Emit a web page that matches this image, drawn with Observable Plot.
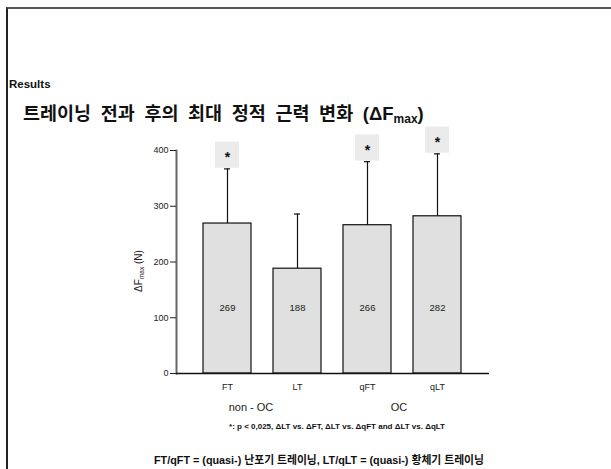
<!DOCTYPE html>
<html>
<head>
<meta charset="utf-8">
<script src="https://cdn.jsdelivr.net/npm/d3@7"></script>
<script src="https://cdn.jsdelivr.net/npm/@observablehq/plot@0.6"></script>
<style>
  html, body { margin: 0; padding: 0; background: #fff; overflow: hidden; }
  body { width: 611px; height: 469px; position: relative;
         font-family: "Liberation Sans", Arial, "Noto Sans CJK KR", sans-serif; color: #111; }
  .frame { position: absolute; left: 6px; top: 7px; width: 605px; height: 462px;
           border-top: 2px solid #555; border-left: 2px solid #222; box-sizing: border-box; }
  .abs { position: absolute; white-space: nowrap; }
  .center { transform: translate(-50%, -50%); }
  #results { left: 9px; top: 78px; font-size: 11.5px; font-weight: bold; }
  #title { left: 23px; top: 99px; font-size: 18.5px; font-weight: bold; word-spacing: 4.5px;
           font-family: "Liberation Sans", Arial, "Noto Sans CJK KR", sans-serif; }
  #title sub { font-size: 12px; vertical-align: -3px; line-height: 0; }
  #chart { position: absolute; left: 0; top: 120px; }
  .group { font-size: 11px; color: #222; }
  .note1 { font-size: 8px; font-weight: bold; }
  .note2 { font-size: 10.8px; font-weight: bold; font-family: "Liberation Sans", Arial, "Noto Sans CJK KR", sans-serif; }
</style>
</head>
<body>
<div class="frame"></div>
<div id="results" class="abs">Results</div>
<div id="title" class="abs">트레이닝 전과 후의 최대 정적 근력 변화 (ΔF<sub>max</sub>)</div>
<div id="chart"></div>
<div id="groups"></div>
<div class="abs center note1" style="left:337px; top:426px;">*: p &lt; 0,025, ΔLT vs. ΔFT, ΔLT vs. ΔqFT and ΔLT vs. ΔqLT</div>
<div class="abs center note2" style="left:319px; top:459px;">FT/qFT = (quasi-) 난포기 트레이닝, LT/qLT = (quasi-) 황체기 트레이닝</div>
<script>
// Maximal static force change per training type (mean + SD, N)
const categories = ["FT", "LT", "qFT", "qLT"];
const means = [269, 188, 266, 282];
const sds = [98, 98, 114, 112];
const stars = ["*", "", "*", "*"];
const groups = ["non - OC", "OC"];
const yTicks = [0, 100, 200, 300, 400];

const data = categories.map((c, i) => ({
  cat: c, mean: means[i], sd: sds[i], top: means[i] + sds[i], star: stars[i]
}));
const starred = data.filter(d => d.star);

const boxSpan = 48;     // height of the significance box, in N
const labelLevel = 118; // where the value labels sit inside the bars, in N

const chart = Plot.plot({
  width: 611,
  height: 300,
  marginTop: 30,
  marginBottom: 47,
  marginLeft: 176,
  marginRight: 122,
  style: { fontFamily: "'Liberation Sans', Arial, sans-serif", fontSize: "9px", color: "#222", background: "transparent" },
  x: { domain: categories, paddingInner: 0.314, paddingOuter: 0.39, label: null },
  y: { domain: [0, 400], label: null },
  marks: [
    Plot.barY(data, { x: "cat", y: "mean", fill: "#e0e0e0", stroke: "#111", strokeWidth: 1.2 }),
    Plot.ruleX(data, { x: "cat", y1: "mean", y2: "top", stroke: "#111", strokeWidth: 1.2 }),
    Plot.tickY(data, { x: "cat", y: "top", insetLeft: 21, insetRight: 21, stroke: "#111", strokeWidth: 1.2 }),
    Plot.barY(starred, { x: "cat", y1: d => d.top + 1, y2: d => d.top + boxSpan, fill: "#ebebeb", insetLeft: 12, insetRight: 12 }),
    Plot.text(starred, { x: "cat", y: d => d.top + boxSpan / 2, text: "star", fontSize: 14, fontWeight: "bold", fill: "#111", dy: 2 }),
    Plot.text(data, { x: "cat", y: () => labelLevel, text: d => String(d.mean), fontSize: 9.5, fill: "#222" }),
    Plot.frame({ anchor: "left", stroke: "#666", strokeWidth: 2 }),
    Plot.ruleY([0], { stroke: "#111", strokeWidth: 1.5 }),
    Plot.axisY({ ticks: yTicks, tickSize: 6, tickPadding: 2, label: null, fontSize: 9 }),
    Plot.axisX({ tickSize: 0, tickPadding: 10, label: null, fontSize: 9 })
  ]
});
document.getElementById("chart").appendChild(chart);

// Rotated y-axis title with a subscript
const svg = d3.select(chart);
const yTitle = svg.append("text")
  .attr("transform", "translate(142,151) rotate(-90)")
  .attr("text-anchor", "middle")
  .attr("fill", "#222")
  .style("font-size", "10px");
yTitle.append("tspan").text("ΔF");
yTitle.append("tspan").attr("dy", "2").style("font-size", "6.5px").text("max");
yTitle.append("tspan").attr("dy", "-2").text(" (N)");

// Group labels under the category pairs
const groupX = [251, 399];
const g = document.getElementById("groups");
groups.forEach((name, i) => {
  const el = document.createElement("div");
  el.className = "abs center group";
  el.style.left = groupX[i] + "px";
  el.style.top = "407px";
  el.textContent = name;
  g.appendChild(el);
});
</script>
</body>
</html>
